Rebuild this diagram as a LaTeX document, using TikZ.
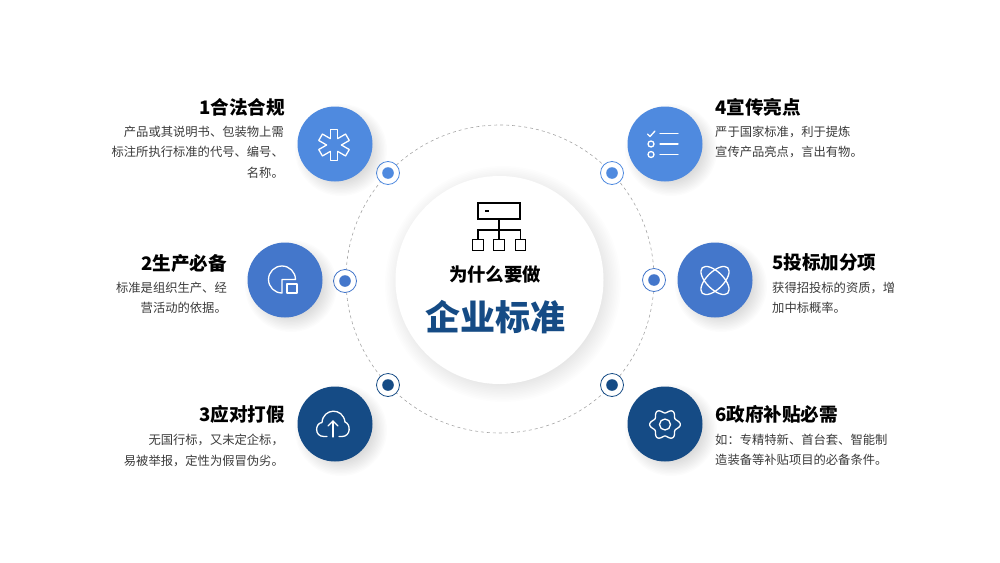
\documentclass[tikz,border=0pt]{standalone}
\usepackage{fontspec}
\setmainfont{Noto Sans CJK SC}
\definecolor{skyblue}{HTML}{4F8ADF}
\definecolor{midblue}{HTML}{4477CB}
\definecolor{deepblue}{HTML}{154B85}
\definecolor{bodygray}{HTML}{3A3A3A}
\newcommand{\softdisc}[3]{%
	\foreach \k in {0,...,13}
		\fill[black,opacity=.010] (#1+6,#2+6) circle ({#3+9-\k*1.4});
}
\newcommand{\cncomma}{\char"FF0C\relax}
\newcommand{\cncolon}{\char"FF1A\relax}
\begin{document}
\begin{tikzpicture}[x=1pt,y=-1pt,smooth,>=stealth,
	bubble/.style={circle,minimum size=75pt,inner sep=0pt},
	glyph/.style={draw=white,line width=1.3pt,line cap=round,line join=round},
	heading/.style={inner sep=0pt,font=\fontsize{18.6}{20}\selectfont\bfseries},
	bodytext/.style={inner sep=0pt,text=bodygray,font=\fontsize{12.3}{20.3}\selectfont},
	tree/.style={draw=black,line width=1.2pt}]
	\useasboundingbox (0,0) rectangle (1000,562);
	% ring and centre
	\draw[color=gray!70!white,line width=0.6pt,dashed] (500,279) circle (154);
	\foreach \k in {0,...,15}
		\fill[black,opacity=.007] (503,284) circle ({118-\k*1.6});
	\node[circle,fill=white,minimum size=208pt,inner sep=0pt] (hub) at (499.5,280) {};
	% centre tree icon
	\node[tree,rectangle,minimum width=42pt,minimum height=16pt,inner sep=0pt] (root) at (499,211) {};
	\node[tree,rectangle,minimum size=10.5pt,inner sep=0pt] (leafa) at (478,245) {};
	\node[tree,rectangle,minimum size=10.5pt,inner sep=0pt] (leafb) at (499,245) {};
	\node[tree,rectangle,minimum size=10.5pt,inner sep=0pt] (leafc) at (520.5,245) {};
	\draw[tree] (root.south) -- (leafb.north);
	\draw[tree] (leafa.north) |- (499,230) -| (leafc.north);
	\draw[tree] (485,211) -- (489,211);
	\node[font=\fontsize{18.4}{20}\selectfont\bfseries,inner sep=0pt] (why) at (495,274.5) {为什么要做};
	\node[text=deepblue,font=\fontsize{35}{38}\selectfont\bfseries,inner sep=0pt] (title) at (495,317) {企业标准};
	% markers on the ring
	\foreach \x/\y/\c/\n in {388/173/skyblue/marka,345/281/midblue/markb,388/385/deepblue/markc,612/173/skyblue/markd,654/280/midblue/marke,612/385/deepblue/markf}{
		\node[circle,fill=white,draw=\c,line width=0.8pt,minimum size=23pt,inner sep=0pt] (\n) at (\x,\y) {};
		\fill[\c] (\n) circle (5.8);
	}
	% bubbles
	\foreach \x/\y/\c/\n in {335/144/skyblue/legal,285/280/midblue/making,335/424/deepblue/fakes,665/144/skyblue/promo,715/280/midblue/bids,665/424/deepblue/grants}{
		\softdisc{\x}{\y}{37}
		\node[bubble,fill=\c] (\n) at (\x,\y) {};
	}
	% icon 1
	\foreach \a in {30,90,150,210,270,330}
		\draw[glyph,shift={(334,145)},rotate=\a] (30:7.4) -- (15.5,3.7) -- (15.5,-3.7) -- (-30:7.4);
	% icon 2
	\draw[glyph] (282,293) arc (90:360:13.5) -- (282,279.5) -- cycle;
	\draw[glyph,fill=midblue] (287,284) rectangle (297,293);
	% icon 3
	\draw[glyph] (327,436.5) -- (324,436.5) .. controls (314,436.5) and (315,423) .. (322,422.5) .. controls (323,408) and (343,407) .. (345,422) .. controls (351,424) and (351,436.5) .. (342,436.5) -- (339,436.5);
	\draw[glyph] (333,437) -- (333,421);
	\draw[glyph] (328,426) -- (333,421) -- (338,426);
	% icon 4
	\draw[glyph] (647.5,134) -- (650,136.5) -- (655,131);
	\draw[glyph] (651,144) circle (3);
	\draw[glyph] (651,154.5) circle (3);
	\draw[glyph] (660,133.5) -- (678,133.5);
	\draw[glyph] (660,144) -- (678,144);
	\draw[glyph] (660,154.5) -- (678,154.5);
	% icon 5
	\draw[glyph,rotate around={45:(715,280.5)}] (715,280.5) ellipse (18 and 8.5);
	\draw[glyph,rotate around={-45:(715,280.5)}] (715,280.5) ellipse (18 and 8.5);
	% icon 6
	\draw[glyph,shift={(665,424.5)},samples=200,domain=0:360] plot ({\x:{13.4+1.9*cos(6*\x)}}) -- cycle;
	\draw[glyph] (665,424.5) circle (5.5);
	% left texts
	\node[heading,anchor=east] (legalhead) at (285,107.5) {1合法合规};
	\node[bodytext,anchor=east,align=right] (legaltext) at (284,152) {产品或其说明书、包装物上需\\标注所执行标准的代号、编号、\\名称。};
	\node[heading,anchor=east] (makinghead) at (227,263.5) {2生产必备};
	\node[bodytext,anchor=east,align=right] (makingtext) at (227,297.5) {标准是组织生产、经\\营活动的依据。};
	\node[heading,anchor=east] (fakeshead) at (285,414.5) {3应对打假};
	\node[bodytext,anchor=east,align=right] (fakestext) at (284,450.5) {无国行标\cncomma 又未定企标\cncomma\\易被举报\cncomma 定性为假冒伪劣。};
	% right texts
	\node[heading,anchor=west] (promohead) at (715,107.5) {4宣传亮点};
	\node[bodytext,anchor=west,align=left] (promotext) at (715,142) {严于国家标准\cncomma 利于提炼\\宣传产品亮点\cncomma 言出有物。};
	\node[heading,anchor=west] (bidshead) at (772,262.5) {5投标加分项};
	\node[bodytext,anchor=west,align=left] (bidstext) at (772,297.5) {获得招投标的资质\cncomma 增\\加中标概率。};
	\node[heading,anchor=west] (grantshead) at (715,414.5) {6政府补贴必需};
	\node[bodytext,anchor=west,align=left] (grantstext) at (715,449.5) {如\cncolon 专精特新、首台套、智能制\\造装备等补贴项目的必备条件。};
\end{tikzpicture}
\end{document}
